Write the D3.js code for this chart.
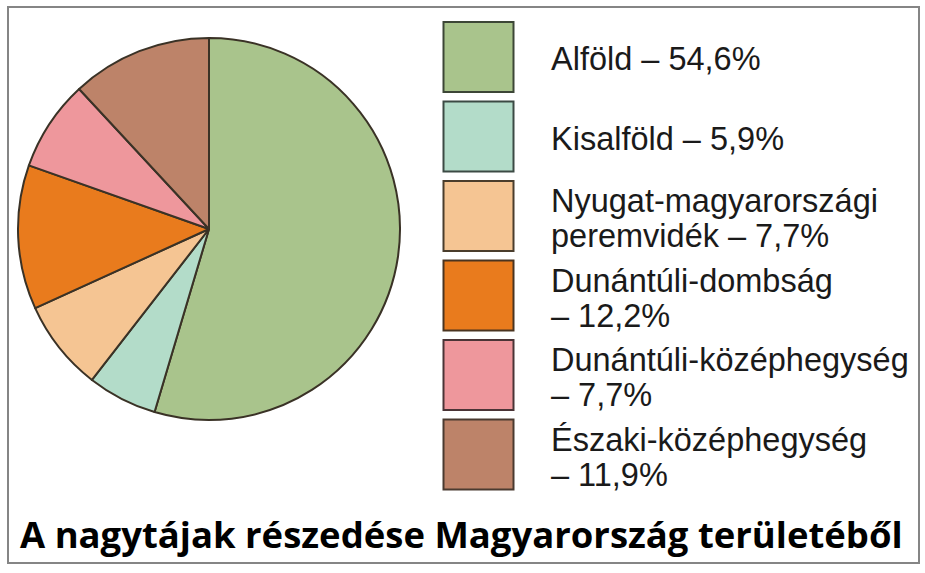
<!DOCTYPE html>
<html>
<head>
<meta charset="utf-8">
<script src="https://cdn.jsdelivr.net/npm/d3@7"></script>
<style>
  html, body { margin: 0; padding: 0; background: #ffffff; }
  svg { display: block; }
</style>
</head>
<body>
<svg id="chart" width="925" height="573"></svg>
<script>
// Regions of Hungary and their share of the country's area (%)
const regions = [
  "Alföld",
  "Kisalföld",
  "Nyugat-magyarországi peremvidék",
  "Dunántúli-dombság",
  "Dunántúli-középhegység",
  "Északi-középhegység"
];
const shares = [54.6, 5.9, 7.7, 12.2, 7.7, 11.9];
// How each legend entry wraps: text of the first line, and whether the
// value goes on the same line (false) or on a second line (true)
const legendFirstLine = [
  "Alföld",
  "Kisalföld",
  "Nyugat-magyarországi",
  "Dunántúli-dombság",
  "Dunántúli-középhegység",
  "Északi-középhegység"
];
const legendSecondLine = [null, null, "peremvidék", "", "", ""];
const fills = ["#a9c48c", "#b3dcc9", "#f5c593", "#e97b1d", "#ee979c", "#bd8369"];
const strokes = ["#3c4636", "#3c4a44", "#4a3d2c", "#4a3420", "#4a3436", "#4a3a30"];
const title = "A nagytájak részedése Magyarország területéből";

const fmtShare = v => v.toFixed(1).replace(".", ",") + "%";

const svg = d3.select("#chart");

// outer frame
svg.append("rect")
  .attr("x", 8).attr("y", 7)
  .attr("width", 911).attr("height", 556)
  .attr("fill", "#ffffff")
  .attr("stroke", "#858585")
  .attr("stroke-width", 2);

// pie
const cx = 209, cy = 229, radius = 191;
const pie = d3.pie().sort(null).value(d => d.value);
const arcs = pie(regions.map((r, i) => ({ name: r, value: shares[i], i })));
const arc = d3.arc().innerRadius(0).outerRadius(radius);

const pieG = svg.append("g").attr("transform", `translate(${cx},${cy})`);
pieG.selectAll("path.slice")
  .data(arcs)
  .join("path")
  .attr("class", "slice")
  .attr("d", arc)
  .attr("fill", d => fills[d.data.i])
  .attr("stroke", "#3a3226")
  .attr("stroke-width", 2)
  .attr("stroke-linejoin", "round");

// legend
const legendY = d3.scaleBand()
  .domain(regions)
  .range([22, 22 + 6 * 79.5])
  .paddingInner(0);

const items = svg.append("g").selectAll("g.item")
  .data(regions)
  .join("g")
  .attr("class", "item")
  .attr("transform", d => `translate(0,${legendY(d)})`);

items.append("rect")
  .attr("x", 443.5).attr("y", 0)
  .attr("width", 70).attr("height", 70)
  .attr("fill", (d, i) => fills[i])
  .attr("stroke", (d, i) => strokes[i])
  .attr("stroke-width", 2);

items.each(function (d, i) {
  const g = d3.select(this);
  const value = fmtShare(shares[i]);
  const second = legendSecondLine[i];
  const lines = second === null
    ? [legendFirstLine[i] + " – " + value]
    : [legendFirstLine[i], (second ? second + " " : "") + "– " + value];
  const firstBase = lines.length === 1 ? 48 : 31;
  lines.forEach((t, k) => {
    g.append("text")
      .attr("x", 551)
      .attr("y", firstBase + k * 35)
      .attr("font-family", "'Liberation Sans', Arial, Helvetica, sans-serif")
      .attr("font-size", 32.5)
      .attr("fill", "#1a1a1a")
      .text(t);
  });
});

// title, fitted to the frame width
const titleText = svg.append("text")
  .attr("x", 20)
  .attr("y", 548)
  .attr("font-family", "'Open Sans', 'Noto Sans', sans-serif")
  .attr("font-weight", 700)
  .attr("font-size", 35)
  .attr("fill", "#000000")
  .text(title);
const tw = titleText.node().getComputedTextLength();
const targetW = 883;
titleText.attr("transform", `translate(20,0) scale(${targetW / tw},1) translate(-20,0)`);
</script>
</body>
</html>
